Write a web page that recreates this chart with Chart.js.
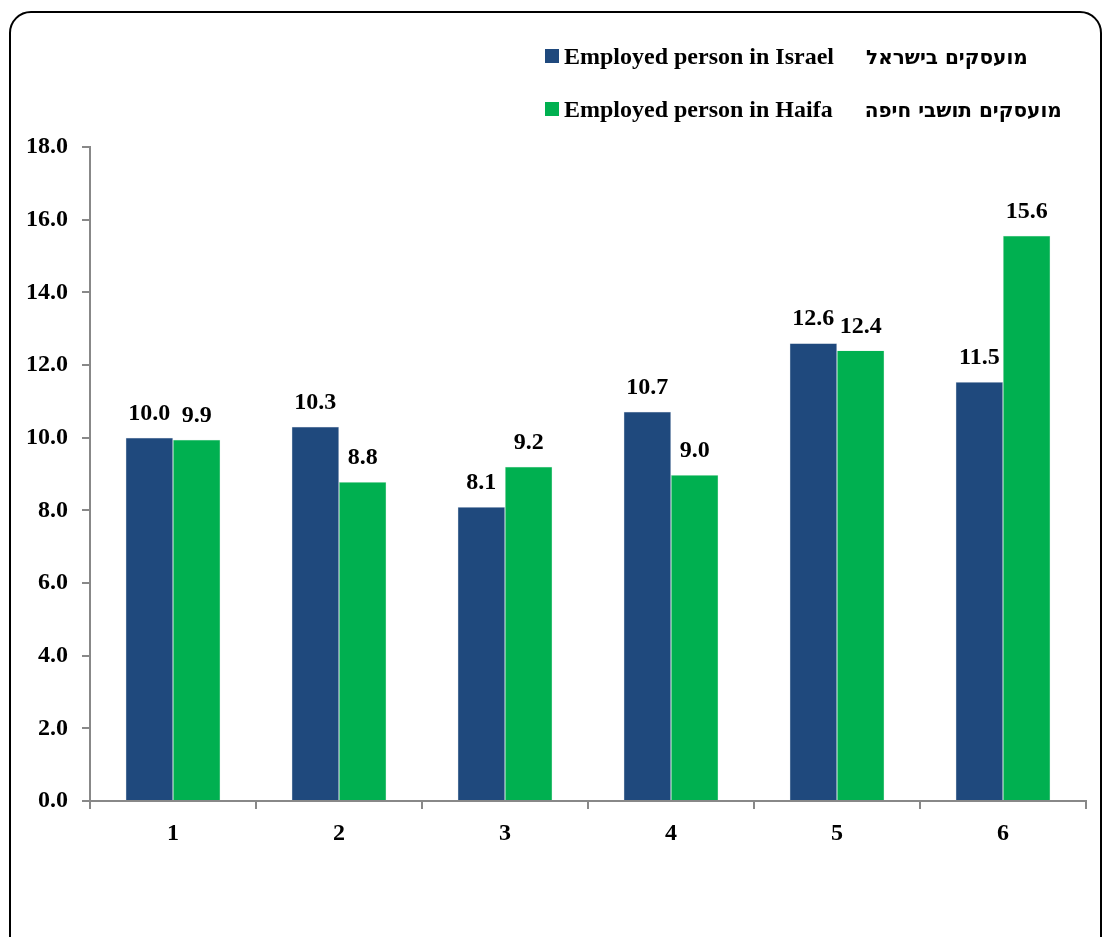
<!DOCTYPE html>
<html>
<head>
<meta charset="utf-8">
<script src="https://cdn.jsdelivr.net/npm/chart.js@4"></script>
<style>
  body { margin: 0; background: #fff; }
  #frame {
    position: absolute; left: 9px; top: 11px; width: 1093px; height: 960px;
    border: 2px solid #000; border-radius: 22px; box-sizing: border-box;
  }
  #wrap { position: absolute; left: 0; top: 0; width: 1106px; height: 937px; }
  .legend {
    position: absolute; left: 545px; font: bold 24px "Liberation Serif", serif; color: #000;
    white-space: nowrap;
  }
  .legend i { display: inline-block; width: 14px; height: 14px; margin-right: 5px; vertical-align: 1px; }
  .legend span { font: bold 20px "DejaVu Sans", "Liberation Sans", sans-serif; margin-left: 32px; }
</style>
</head>
<body>
<div id="frame"></div>
<div id="wrap"><canvas id="myChart"></canvas></div>
<div class="legend" style="top:43px"><i style="background:#1F497D"></i>Employed person in Israel<span>מועסקים בישראל</span></div>
<div class="legend" style="top:96px"><i style="background:#00B050"></i>Employed person in Haifa<span>מועסקים תושבי חיפה</span></div>
<script>
var categories = ['1', '2', '3', '4', '5', '6'];
var israel = [10.0, 10.3, 8.09, 10.71, 12.6, 11.53];
var haifa = [9.94, 8.78, 9.2, 8.97, 12.4, 15.56];
var seriesNames = ['Employed person in Israel', 'Employed person in Haifa'];

var serif = '"Liberation Serif", "Times New Roman", serif';

var valueLabels = {
	id: 'valueLabels',
	afterDatasetsDraw: function(chart) {
		var ctx = chart.ctx;
		ctx.save();
		ctx.font = 'bold 24px ' + serif;
		ctx.fillStyle = '#000';
		ctx.textAlign = 'center';
		ctx.textBaseline = 'bottom';
		chart.data.datasets.forEach(function(ds, i) {
			chart.getDatasetMeta(i).data.forEach(function(bar, j) {
				ctx.fillText(ds.data[j].toFixed(1), bar.x, bar.y - 12);
			});
		});
		ctx.restore();
	}
};

new Chart(document.getElementById('myChart'), {
	type: 'bar',
	data: {
		labels: categories,
		datasets: [{
			label: seriesNames[0],
			data: israel,
			backgroundColor: '#1F497D',
			borderColor: 'rgba(160,180,200,0.5)',
			borderWidth: 0.5
		},
		{
			label: seriesNames[1],
			data: haifa,
			backgroundColor: '#00B050',
			borderColor: 'rgba(160,220,180,0.6)',
			borderWidth: 0.5
		}]
	},
	options: {
		responsive: true,
		maintainAspectRatio: false,
		animation: false,
		layout: { padding: { left: 25, top: 147, right: 20, bottom: 86 } },
		plugins: {
			legend: { display: false },
			tooltip: { enabled: false }
		},
		datasets: {
			bar: { categoryPercentage: 0.57, barPercentage: 1.0 }
		},
		scales: {
			x: {
				afterFit: function(s) { s.height = 50; },
				grid: { offset: true, drawOnChartArea: false, tickLength: 8, color: '#888', lineWidth: 2 },
				border: { display: true, color: '#888', width: 2 },
				ticks: { color: '#000', font: { family: serif, size: 24, weight: 'bold' }, padding: 10 }
			},
			y: {
				min: 0,
				max: 18,
				afterFit: function(s) { s.width = 65; },
				grid: { drawOnChartArea: false, tickLength: 8, color: '#888', lineWidth: 2 },
				border: { display: true, color: '#888', width: 2 },
				ticks: {
					stepSize: 2,
					color: '#000',
					padding: 14,
					font: { family: serif, size: 24, weight: 'bold' },
					callback: function(v) { return v.toFixed(1); }
				}
			}
		}
	},
	plugins: [valueLabels]
});
</script>
</body>
</html>
